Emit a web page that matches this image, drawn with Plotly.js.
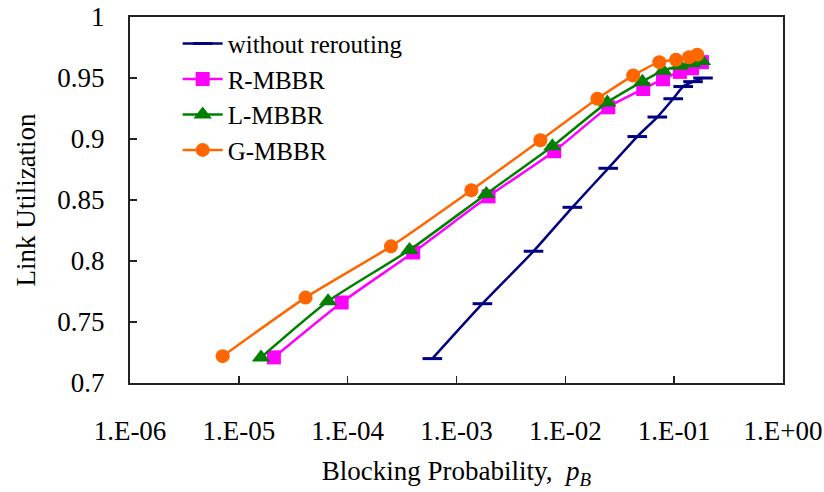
<!DOCTYPE html>
<html>
<head>
<meta charset="utf-8">
<script src="https://cdn.plot.ly/plotly-3.0.1.min.js"></script>
<style>html,body{margin:0;padding:0;background:#fff;}#chart{width:824px;height:492px;}</style>
</head>
<body>
<div id="chart"></div>
<script>
// Data
var seriesNames = ["without rerouting", "R-MBBR", "L-MBBR", "G-MBBR"];

var noRerouteX = [6.0e-4, 1.73e-3, 5.1e-3, 1.16e-2, 2.48e-2, 4.58e-2, 7.0e-2, 9.8e-2, 1.21e-1, 1.49e-1, 1.84e-1];
var noRerouteY = [0.720, 0.765, 0.808, 0.844, 0.876, 0.902, 0.918, 0.933, 0.943, 0.947, 0.950];

var rX = [2.1e-5, 8.8e-5, 4.0e-4, 1.97e-3, 7.9e-3, 2.48e-2, 5.2e-2, 7.9e-2, 1.13e-1, 1.46e-1, 1.80e-1];
var rY = [0.721, 0.766, 0.807, 0.853, 0.890, 0.926, 0.941, 0.949, 0.955, 0.958, 0.963];

var lX = [1.6e-5, 6.6e-5, 3.7e-4, 1.88e-3, 7.6e-3, 2.43e-2, 5.1e-2, 7.9e-2, 1.13e-1, 1.46e-1, 1.80e-1];
var lY = [0.721, 0.767, 0.809, 0.855, 0.894, 0.930, 0.947, 0.956, 0.960, 0.962, 0.964];

var gX = [7.1e-6, 4.1e-5, 2.5e-4, 1.37e-3, 5.9e-3, 1.97e-2, 4.2e-2, 7.3e-2, 1.04e-1, 1.37e-1, 1.63e-1];
var gY = [0.722, 0.770, 0.812, 0.858, 0.899, 0.933, 0.952, 0.963, 0.965, 0.967, 0.969];

var xTickVals = [1e-6, 1e-5, 1e-4, 1e-3, 1e-2, 1e-1, 1];
var xTickText = ["1.E-06", "1.E-05", "1.E-04", "1.E-03", "1.E-02", "1.E-01", "1.E+00"];
var yTickVals = [0.7, 0.75, 0.8, 0.85, 0.9, 0.95, 1];
var yTickText = ["0.7", "0.75", "0.8", "0.85", "0.9", "0.95", "1"];

var FONT = "Liberation Serif";
var FS = 27;

function tr(name, x, y, color, symbol, msize, group) {
  return {
    type: "scatter", mode: "lines+markers", name: name, x: x, y: y,
    legendgroup: group,
    line: {color: color, width: 2.5, shape: "spline", smoothing: 0.6},
    marker: {symbol: symbol, size: msize, color: color,
             line: {color: color, width: symbol === "line-ew" ? 3 : 0}},
    cliponaxis: false
  };
}

var data = [
  tr(seriesNames[0], noRerouteX, noRerouteY, "#000080", "line-ew", 14, "a"),
  tr(seriesNames[1], rX, rY, "#FF00FF", "square", 14, "b"),
  tr(seriesNames[2], lX, lY, "#008000", "triangle-up", 16, "c"),
  tr(seriesNames[3], gX, gY, "#FF6600", "circle", 14, "d")
];

var layout = {
  width: 824, height: 492,
  margin: {l: 130, r: 41, t: 17, b: 109},
  paper_bgcolor: "#fff", plot_bgcolor: "#fff",
  font: {family: FONT, size: FS, color: "#000"},
  showlegend: true,
  legend: {x: 0.073, y: 0.99, xanchor: "left", yanchor: "top",
           bgcolor: "rgba(0,0,0,0)", font: {family: FONT, size: 25, color: "#000"},
           traceorder: "grouped", tracegroupgap: 0, itemwidth: 40},
  xaxis: {
    type: "log", range: [-6, 0],
    tickmode: "array", tickvals: xTickVals, ticktext: xTickText,
    ticks: "inside", ticklen: 7, tickwidth: 1.5, tickcolor: "#222",
    showline: true, linecolor: "#222", linewidth: 2, mirror: true,
    showgrid: false, zeroline: false,
    tickfont: {family: FONT, size: FS, color: "#000"},
    ticklabelstandoff: 23,
    title: {text: "Blocking Probability,  <i>p</i><sub><i>B</i></sub>",
            font: {family: FONT, size: FS, color: "#000"}, standoff: 16}
  },
  yaxis: {
    range: [0.7, 1],
    tickmode: "array", tickvals: yTickVals, ticktext: yTickText,
    ticks: "inside", ticklen: 7, tickwidth: 1.5, tickcolor: "#222",
    showline: true, linecolor: "#222", linewidth: 2, mirror: true,
    showgrid: false, zeroline: false,
    tickfont: {family: FONT, size: FS, color: "#000"},
    ticklabelstandoff: 18,
    title: {text: "Link Utilization", font: {family: FONT, size: FS, color: "#000"}, standoff: 14}
  }
};

Plotly.newPlot("chart", data, layout, {displayModeBar: false, staticPlot: true});
</script>
</body>
</html>
